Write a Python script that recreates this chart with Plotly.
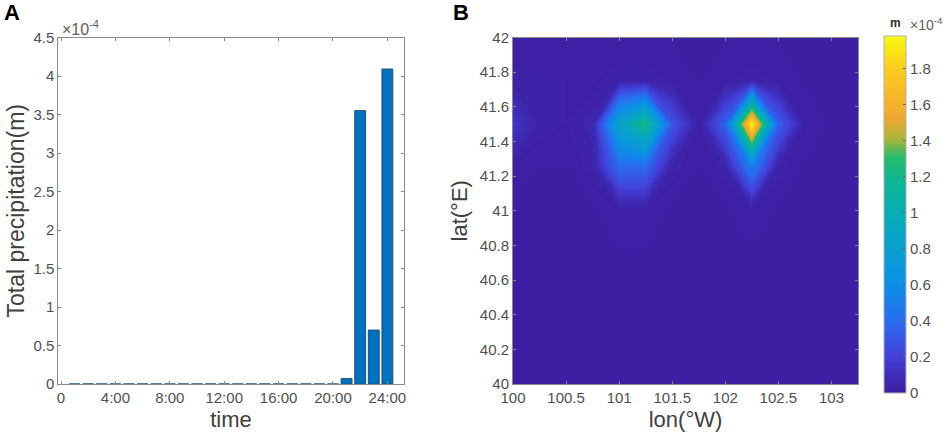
import plotly.graph_objects as go

W, H = 948, 437

# panel A, hourly precipitation (x 10^-4 m)
hours = list(range(1, 25))
precip = [0] * 20 + [0.07, 3.55, 0.70, 4.09]
hour_ticks = [0, 4, 8, 12, 16, 20, 24]
hour_labels = ["0", "4:00", "8:00", "12:00", "16:00", "20:00", "24:00"]
precip_ticks = [0, 0.5, 1, 1.5, 2, 2.5, 3, 3.5, 4, 4.5]
precip_labels = ["0", "0.5", "1", "1.5", "2", "2.5", "3", "3.5", "4", "4.5"]

# panel B, gridded precipitation (x 10^-4 m)
lon = [100, 100.25, 100.5, 100.75, 101, 101.25, 101.5, 101.75, 102, 102.25, 102.5, 102.75, 103, 103.25]
lat = [40, 40.25, 40.5, 40.75, 41, 41.25, 41.5, 41.75, 42]
r400 = [0] * 14
r425 = [0] * 14
r450 = [0] * 14
r475 = [0] * 14
r410 = [0, 0, 0, 0, 0.01, 0.01, 0, 0, 0, 0.01, 0, 0, 0, 0]
r4125 = [0.01, 0, 0, 0.03, 0.38, 0.38, 0.03, 0, 0.03, 0.50, 0.03, 0, 0, 0]
r415 = [0.15, 0.03, 0.02, 0.05, 0.85, 1.25, 0.30, 0.02, 0.35, 1.98, 0.35, 0.02, 0, 0]
r4175 = [0.03, 0.03, 0.02, 0.01, 0.04, 0.04, 0.01, 0, 0.01, 0.04, 0.01, 0, 0, 0]
r420 = [0] * 14
grid = [r400, r425, r450, r475, r410, r4125, r415, r4175, r420]
lon_ticks = [100, 100.5, 101, 101.5, 102, 102.5, 103]
lon_labels = ["100", "100.5", "101", "101.5", "102", "102.5", "103"]
lat_ticks = [40, 40.2, 40.4, 40.6, 40.8, 41, 41.2, 41.4, 41.6, 41.8, 42]
lat_labels = ["40", "40.2", "40.4", "40.6", "40.8", "41", "41.2", "41.4", "41.6", "41.8", "42"]
cb_ticks = [0, 0.2, 0.4, 0.6, 0.8, 1, 1.2, 1.4, 1.6, 1.8]
cb_labels = ["0", "0.2", "0.4", "0.6", "0.8", "1", "1.2", "1.4", "1.6", "1.8"]

colors = [
    [0.0, "#3d1fa3"], [0.05, "#3f2cb8"], [0.1, "#4340d8"], [0.2, "#2a6cf0"],
    [0.3, "#0d8ee8"], [0.4, "#0a9fd0"], [0.5, "#07acb8"], [0.6, "#10b690"],
    [0.66, "#25bb6c"], [0.71, "#a8b53c"], [0.77, "#f0a830"], [0.9, "#fcc820"],
    [1.0, "#f8f810"],
]

grey = "#8a8a8a"
font = "Liberation Sans, Arial, sans-serif"
tick_font = dict(family=font, size=15, color="#505050")
title_font = dict(family=font, size=22, color="#404040")

fig = go.Figure()
fig.add_trace(go.Bar(x=hours, y=precip, width=0.8, marker=dict(color="#0072bd", line=dict(color="#1d4f78", width=1)),
                     xaxis="x", yaxis="y", showlegend=False))
fig.add_trace(go.Contour(x=lon, y=lat, z=grid, zmin=0, zmax=1.98, colorscale=colors,
                         contours=dict(coloring="fill", start=0, end=1.98, size=0.02), line=dict(width=0, smoothing=0),
                         xaxis="x2", yaxis="y2",
                         colorbar=dict(x=884 / W, xanchor="left", xpad=0, y=1 - 393 / H, yanchor="bottom", ypad=0,
                                       len=357 / H, lenmode="fraction", thickness=22, outlinecolor="#b0b0b0",
                                       outlinewidth=1, tickmode="array", tickvals=cb_ticks, ticktext=cb_labels,
                                       ticks="inside", ticklen=3, tickcolor="#666666", tickfont=tick_font)))


def axis(domain, **kw):
    return dict(domain=domain, showgrid=False, zeroline=False, showline=True, linecolor=grey, linewidth=1,
                mirror="ticks", ticks="inside", ticklen=3, tickcolor=grey, tickfont=tick_font,
                title_font=title_font, tickmode="array", **kw)


fig.update_layout(
    width=W, height=H, margin=dict(l=0, r=0, t=0, b=0, autoexpand=False),
    paper_bgcolor="white", plot_bgcolor="white",
    xaxis=axis([58.3 / W, 403.7 / W], range=[-0.2, 25.2], tickvals=hour_ticks, ticktext=hour_labels,
               anchor="y", title=dict(text="time", standoff=6)),
    yaxis=axis([1 - 384 / H, 1 - 37.5 / H], range=[0, 4.5], tickvals=precip_ticks, ticktext=precip_labels,
               anchor="x", title=dict(text="Total precipitation(m)", standoff=2)),
    xaxis2=axis([513 / W, 858 / W], range=[100, 103.25], tickvals=lon_ticks, ticktext=lon_labels,
                anchor="y2", title=dict(text="lon(°W)", standoff=6)),
    yaxis2=axis([1 - 384 / H, 1 - 37.5 / H], range=[40, 42], tickvals=lat_ticks, ticktext=lat_labels,
                anchor="x2", title=dict(text="lat(°E)", standoff=6)),
)
fig.update_yaxes(title_font_size=23, selector=dict(anchor="x"))

notes = [
    ("A", 2, 12, 22, "black", "left", True),
    ("B", 451, 12, 22, "black", "left", True),
    ("×10<sup>-4</sup>", 60, 28, 16, "#606060", "left", False),
    ("m", 895, 23, 12, "#303030", "center", True),
    ("×10<sup>-4</sup>", 908, 24, 14, "#606060", "left", False),
]
for text, x, y, size, color, align, bold in notes:
    fig.add_annotation(text=f"<b>{text}</b>" if bold else text, x=x / W, y=1 - y / H, xref="paper", yref="paper",
                       showarrow=False, xanchor=align, yanchor="middle", align=align,
                       font=dict(family=font, size=size, color=color))

# page margin would push the figure off the window
fig.write_html("out.html", config=dict(displayModeBar=False),
               post_script="document.body.style.margin='0';document.body.style.overflow='hidden';")
